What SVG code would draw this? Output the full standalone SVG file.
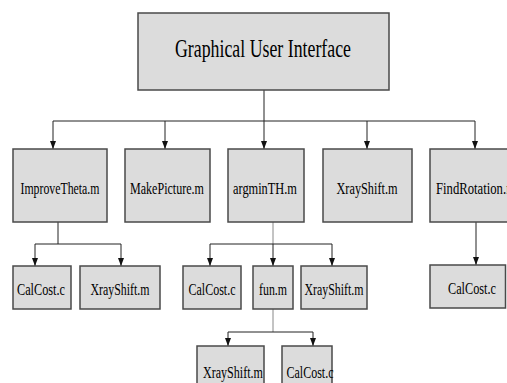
<svg xmlns="http://www.w3.org/2000/svg" width="507" height="383" viewBox="0 0 507 383">
<style>
.box{fill:#dcdcdc;stroke:#4a4a4a;stroke-width:1.5}
text{font-family:'Liberation Serif','Times New Roman','DejaVu Serif',serif;font-size:16.5px;fill:#000;text-anchor:middle}
text.title{font-size:26px}
.c{fill:none;stroke:#222;stroke-width:1}
.g{stroke:#888}
</style>
<defs>
<marker id="ah" viewBox="0 0 8 6" refX="8" refY="3" markerWidth="8" markerHeight="6" markerUnits="userSpaceOnUse" orient="auto">
<path d="M0,0 L8,3 L0,6 Z" fill="#111"/>
</marker>
</defs>
<g id="connectors">
<path class="c" d="M264,90 V121"/>
<path class="c" d="M53,121 H475"/>
<path class="c" d="M53,121 V149" marker-end="url(#ah)"/>
<path class="c" d="M165,121 V149" marker-end="url(#ah)"/>
<path class="c" d="M264,121 V149" marker-end="url(#ah)"/>
<path class="c" d="M367,121 V149" marker-end="url(#ah)"/>
<path class="c" d="M475,121 V149" marker-end="url(#ah)"/>
<path class="c" d="M58,222 V244"/>
<path class="c" d="M35,244 H121"/>
<path class="c" d="M35,244 V266" marker-end="url(#ah)"/>
<path class="c" d="M121,244 V266" marker-end="url(#ah)"/>
<path class="c g" d="M273,222 V244"/>
<path class="c" d="M210,244 H332"/>
<path class="c" d="M210,244 V266" marker-end="url(#ah)"/>
<path class="c" d="M273,244 V266" marker-end="url(#ah)"/>
<path class="c" d="M332,244 V266" marker-end="url(#ah)"/>
<path class="c" d="M476,222 V265" marker-end="url(#ah)"/>
<path class="c g" d="M273,309 V332"/>
<path class="c" d="M228,332 H313"/>
<path class="c" d="M228,332 V346" marker-end="url(#ah)"/>
<path class="c" d="M313,332 V346" marker-end="url(#ah)"/>
</g>
<g id="gui"><rect class="box" x="138" y="13" width="251" height="77"/><text class="title" x="263" y="57" textLength="176" lengthAdjust="spacingAndGlyphs">Graphical User Interface</text></g>
<g id="improveTheta"><rect class="box" x="13" y="149" width="94" height="73"/><text x="60" y="194" textLength="79" lengthAdjust="spacingAndGlyphs">ImproveTheta.m</text></g>
<g id="makePicture"><rect class="box" x="125" y="149" width="85" height="73"/><text x="167" y="194" textLength="74" lengthAdjust="spacingAndGlyphs">MakePicture.m</text></g>
<g id="argminTH"><rect class="box" x="228" y="149" width="76" height="73"/><text x="265" y="194" textLength="64" lengthAdjust="spacingAndGlyphs">argminTH.m</text></g>
<g id="xrayShift1"><rect class="box" x="323" y="149" width="89" height="73"/><text x="367" y="194" textLength="61" lengthAdjust="spacingAndGlyphs">XrayShift.m</text></g>
<g id="findRotation"><rect class="box" x="430" y="149" width="92" height="73"/><text x="476" y="194" textLength="80" lengthAdjust="spacingAndGlyphs">FindRotation.m</text></g>
<g id="calCost1"><rect class="box" x="13" y="266" width="58" height="43"/><text x="41" y="295" textLength="48" lengthAdjust="spacingAndGlyphs">CalCost.c</text></g>
<g id="xrayShift2"><rect class="box" x="80" y="266" width="80" height="43"/><text x="120" y="295" textLength="59" lengthAdjust="spacingAndGlyphs">XrayShift.m</text></g>
<g id="calCost2"><rect class="box" x="183" y="266" width="58" height="43"/><text x="212" y="295" textLength="47" lengthAdjust="spacingAndGlyphs">CalCost.c</text></g>
<g id="fun"><rect class="box" x="253" y="266" width="40" height="43"/><text x="273" y="295" textLength="28" lengthAdjust="spacingAndGlyphs">fun.m</text></g>
<g id="xrayShift3"><rect class="box" x="301" y="266" width="66" height="43"/><text x="334" y="295" textLength="59" lengthAdjust="spacingAndGlyphs">XrayShift.m</text></g>
<g id="calCost3"><rect class="box" x="430" y="265" width="75.5" height="43"/><text x="472" y="294" textLength="48" lengthAdjust="spacingAndGlyphs">CalCost.c</text></g>
<g id="xrayShift4"><rect class="box" x="197" y="346" width="67" height="45"/><text x="233" y="378" textLength="60" lengthAdjust="spacingAndGlyphs">XrayShift.m</text></g>
<g id="calCost4"><rect class="box" x="282" y="346" width="50" height="45"/><text x="310" y="378" textLength="47" lengthAdjust="spacingAndGlyphs">CalCost.c</text></g>
</svg>
